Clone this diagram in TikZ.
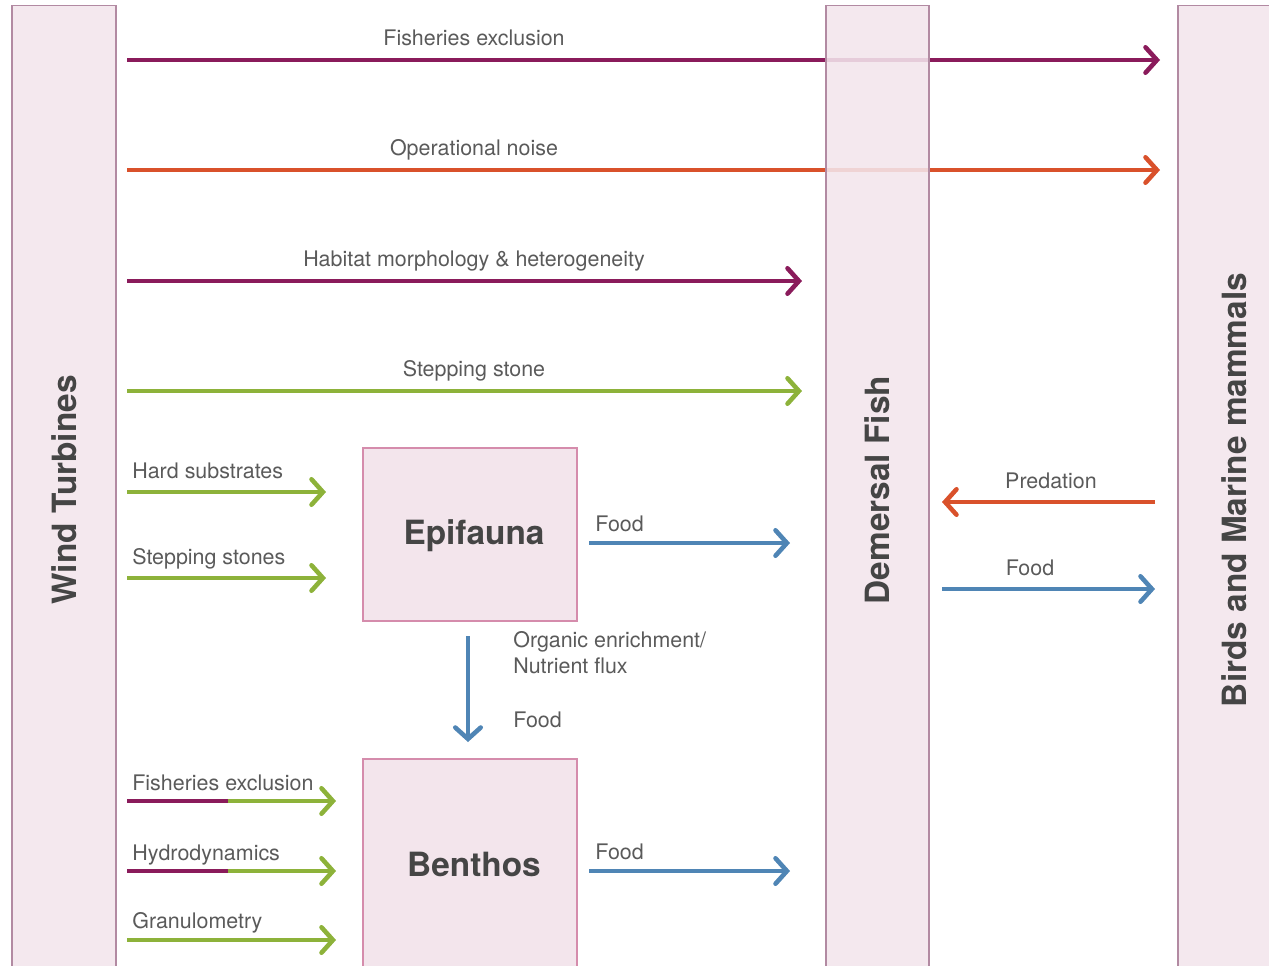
\documentclass[tikz,border=0pt]{standalone}
\usepackage{fontspec}
\setmainfont{TeX Gyre Heros}
\usetikzlibrary{positioning,calc,arrows.meta}

\definecolor{barpink}{HTML}{F3E5EC}
\definecolor{barline}{HTML}{B28AA2}
\definecolor{boxline}{HTML}{D58CAC}
\definecolor{purp}{HTML}{8A1B5B}
\definecolor{oran}{HTML}{D9512B}
\definecolor{gree}{HTML}{8DB23A}
\definecolor{blu}{HTML}{4F85B5}
\definecolor{labelgray}{HTML}{5A5A5A}
\definecolor{titlegray}{HTML}{454545}

\tikzset{
	bar/.style={draw=barline, fill=barpink, line width=0.8pt, fill opacity=0.88, text opacity=1,
		text=titlegray, font=\bfseries\fontsize{19}{21}\selectfont},
	box/.style={draw=boxline, fill=barpink, line width=0.8pt},
	title/.style={text=titlegray, font=\bfseries\fontsize{19}{21}\selectfont},
	link/.style={line width=2.6pt, -{Straight Barb[length=6.5pt,width=14.5pt,line cap=round]}},
	lbl/.style={font=\fontsize{12.2}{14.5}\selectfont, text=labelgray, inner sep=0pt, anchor=base},
}

\begin{document}
\begin{tikzpicture}[x=0.02cm, y=-0.02cm]
	\path[use as bounding box, clip] (0,0) rectangle (1269,965);

	% arrow ends
	\coordinate (fe1) at (127,60);   \coordinate (fe2) at (1160,60);
	\coordinate (on1) at (127,170);  \coordinate (on2) at (1160,170);
	\coordinate (hm1) at (127,281);  \coordinate (hm2) at (802,281);
	\coordinate (ss1) at (127,391);  \coordinate (ss2) at (802,391);
	\coordinate (hs1) at (127,492);  \coordinate (hs2) at (326,492);
	\coordinate (st1) at (127,578);  \coordinate (st2) at (326,578);
	\coordinate (ef1) at (589,543);  \coordinate (ef2) at (790,543);
	\coordinate (oe1) at (468,636);  \coordinate (oe2) at (468,742);
	\coordinate (fx1) at (127,801);  \coordinate (fx2) at (228,801);  \coordinate (fx3) at (336,801);
	\coordinate (hd1) at (127,871);  \coordinate (hd2) at (228,871);  \coordinate (hd3) at (336,871);
	\coordinate (gr1) at (127,940);  \coordinate (gr2) at (336,940);
	\coordinate (bf1) at (589,871);  \coordinate (bf2) at (790,871);
	\coordinate (pr1) at (1155,502); \coordinate (pr2) at (942,502);
	\coordinate (df1) at (942,589);  \coordinate (df2) at (1155,589);

	% long pressures
	\draw[link, purp] (fe1) -- (fe2);
	\draw[link, oran] (on1) -- (on2);
	\draw[link, purp] (hm1) -- (hm2);
	\draw[link, gree] (ss1) -- (ss2);
	\node[lbl] (fel) at (474,45) {Fisheries exclusion};
	\node[lbl] (onl) at (474,155) {Operational noise};
	\node[lbl] (hml) at (474,266) {Habitat morphology \& heterogeneity};
	\node[lbl] (ssl) at (474,376) {Stepping stone};

	% bars
	\node[bar, rotate=90, minimum width=19.38cm, minimum height=2.08cm] (wt) at (64,490) {Wind Turbines};
	\node[bar, rotate=90, minimum width=19.38cm, minimum height=2.06cm] (df) at (877.5,490) {Demersal Fish};
	\node[bar, rotate=90, minimum width=19.38cm, minimum height=2.24cm] (bm) at (1234,490) {Birds and Marine mammals};

	% epifauna
	\node[box, minimum width=4.28cm, minimum height=3.46cm] (epi) at (470,534.5) {};
	\node[title] (epil) at (474,536) {Epifauna};
	\draw[link, gree] (hs1) -- (hs2);
	\draw[link, gree] (st1) -- (st2);
	\node[lbl, anchor=base west] (hsl) at (132,478) {Hard substrates};
	\node[lbl, anchor=base west] (stl) at (132,564) {Stepping stones};
	\draw[link, blu] (ef1) -- (ef2);
	\node[lbl, anchor=base west] (efl) at (595,531) {Food};

	% organic enrichment
	\draw[link, blu] (oe1) -- (oe2);
	\node[lbl, anchor=base west] (oel) at (513,647) {Organic enrichment/};
	\node[lbl, anchor=base west] (nfl) at (513,673) {Nutrient flux};
	\node[lbl, anchor=base west] (ofl) at (513,727) {Food};

	% benthos
	\node[box, minimum width=4.28cm, minimum height=4.32cm] (ben) at (470,867) {};
	\node[title] (benl) at (474,864) {Benthos};
	\draw[line width=2.6pt, purp] (fx1) -- (fx2);
	\draw[link, gree] (fx2) -- (fx3);
	\draw[line width=2.6pt, purp] (hd1) -- (hd2);
	\draw[link, gree] (hd2) -- (hd3);
	\draw[link, gree] (gr1) -- (gr2);
	\node[lbl, anchor=base west] (fxl) at (132,790) {Fisheries exclusion};
	\node[lbl, anchor=base west] (hdl) at (132,860) {Hydrodynamics};
	\node[lbl, anchor=base west] (grl) at (132,928) {Granulometry};
	\draw[link, blu] (bf1) -- (bf2);
	\node[lbl, anchor=base west] (bfl) at (595,859) {Food};

	% fish and birds
	\draw[link, oran] (pr1) -- (pr2);
	\draw[link, blu] (df1) -- (df2);
	\node[lbl] (prl) at (1051,488) {Predation};
	\node[lbl] (dfl) at (1030,575) {Food};
\end{tikzpicture}
\end{document}
